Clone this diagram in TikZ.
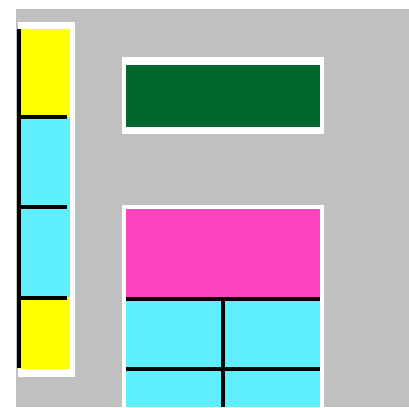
\documentclass[tikz,border=0pt]{standalone}
\usepackage{tikz}
\definecolor{bggray}{HTML}{C0C0C0}
\definecolor{cellyellow}{HTML}{FFFF00}
\definecolor{cellcyan}{HTML}{60EFFF}
\definecolor{cellgreen}{HTML}{00682F}
\definecolor{cellpink}{HTML}{FF44BF}

\begin{document}
\begin{tikzpicture}[x=1pt,y=-1pt,
    box/.style={rectangle,inner sep=0pt,outer sep=0pt,anchor=north west},
    divider/.style={black,line width=4pt}]
    \useasboundingbox (0,0) rectangle (409,407);
    \fill[bggray] (16,9) rectangle (409,407);

    % frames
    \node[box,fill=white,minimum width=57pt,minimum height=355pt] (lframe) at (18,22) {};
    \node[box,fill=white,minimum width=202pt,minimum height=77pt] (gframe) at (122,57) {};
    \node[box,fill=white,minimum width=202pt,minimum height=202pt] (bframe) at (122,205) {};

    % left column
    \node[box,fill=cellyellow,minimum width=49pt,minimum height=88pt] (ly1) at (21,29) {};
    \node[box,fill=cellcyan,minimum width=49pt,minimum height=90pt] (lc1) at (21,117) {};
    \node[box,fill=cellcyan,minimum width=49pt,minimum height=90pt] (lc2) at (21,207) {};
    \node[box,fill=cellyellow,minimum width=49pt,minimum height=72pt] (ly2) at (21,297) {};

    % green and lower block
    \node[box,fill=cellgreen,minimum width=194pt,minimum height=62pt] (green) at (126,65) {};
    \node[box,fill=cellpink,minimum width=194pt,minimum height=88pt] (pink) at (126,209) {};
    \node[box,fill=cellcyan,minimum width=194pt,minimum height=110pt] (cyan) at (126,297) {};

    % dividers
    \draw[divider] ([xshift=-2pt]ly1.north west) -- ([xshift=-2pt,yshift=1pt]ly2.south west);
    \draw[divider] ([xshift=-2pt]lc1.north west) -- ([xshift=-3pt]lc1.north east);
    \draw[divider] ([xshift=-2pt]lc2.north west) -- ([xshift=-3pt]lc2.north east);
    \draw[divider] ([xshift=-2pt,yshift=-0.5pt]ly2.north west) -- ([xshift=-3pt,yshift=-0.5pt]ly2.north east);
    \draw[divider] ([yshift=-1.5pt]cyan.north west) -- ([yshift=-1.5pt]cyan.north east);
    \draw[divider] ([yshift=-71.5pt]cyan.north west) -- ([yshift=-71.5pt]cyan.north east);
    \draw[divider] ([xshift=-0.5pt]cyan.north) -- ([xshift=-0.5pt]cyan.south);
\end{tikzpicture}
\end{document}
